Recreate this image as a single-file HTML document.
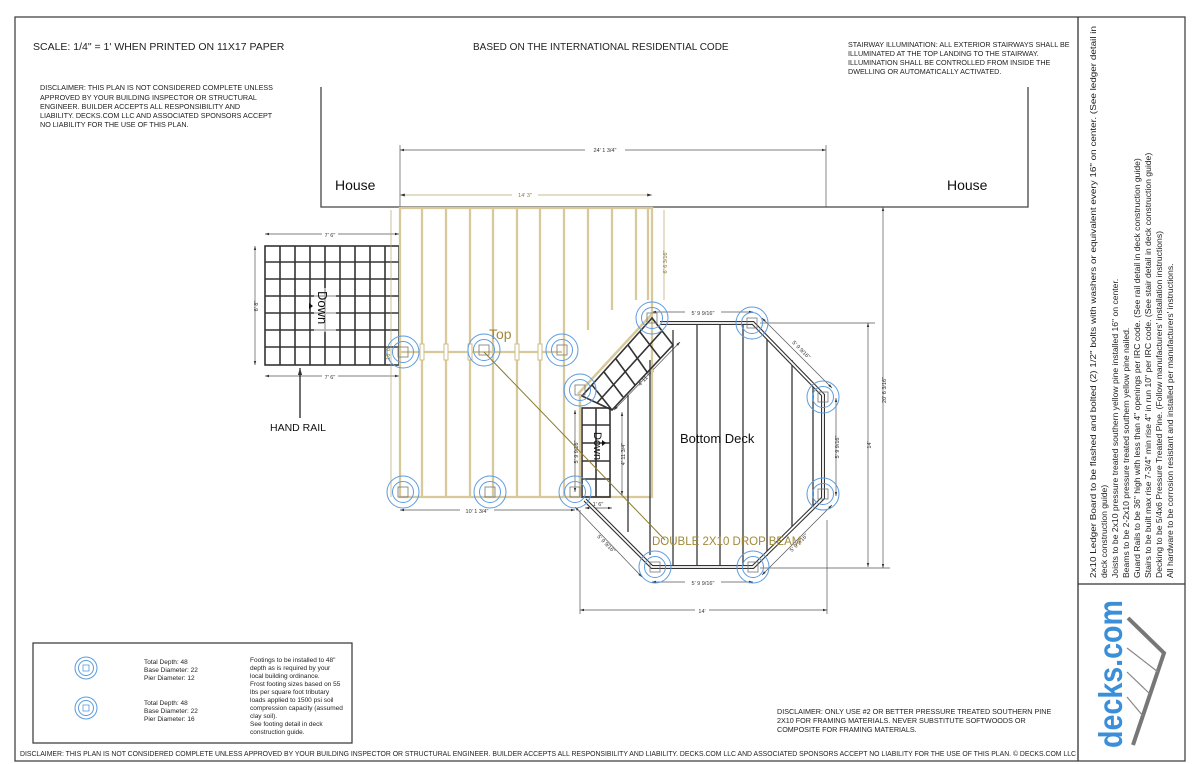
<!DOCTYPE html>
<html><head><meta charset="utf-8"><style>
body{margin:0;background:#fff;}
svg{display:block;font-family:"Liberation Sans",Arial,sans-serif;}
</style></head><body>
<svg width="1200" height="764" viewBox="0 0 1200 764" xmlns="http://www.w3.org/2000/svg">
<defs>
<g id="ft"><circle r="16" fill="none" stroke="#5a9be0" stroke-width="1"/><circle r="10.5" fill="none" stroke="#5a9be0" stroke-width="1"/><rect x="-5" y="-5" width="10" height="10" fill="none" stroke="#777" stroke-width="0.8"/></g>
<marker id="ar" viewBox="0 0 10 10" refX="10" refY="5" markerWidth="6" markerHeight="6" orient="auto-start-reverse"><path d="M0,2L10,5L0,8z" fill="#333"/></marker>
</defs>
<rect x="15" y="17" width="1170" height="744" fill="none" stroke="#444" stroke-width="1.3"/>
<line x1="1078" y1="17" x2="1078" y2="761" stroke="#333" stroke-width="1.3"/>
<line x1="1078" y1="584" x2="1185" y2="584" stroke="#333" stroke-width="1.3"/>

<text x="33" y="50" font-size="10.5" fill="#222">SCALE:  1/4" = 1' WHEN PRINTED ON 11X17 PAPER</text>
<text x="473" y="50" font-size="10" fill="#222">BASED ON THE INTERNATIONAL RESIDENTIAL CODE</text>
<g font-size="7.2" fill="#222">
<text x="40" y="90">DISCLAIMER:  THIS PLAN IS NOT CONSIDERED COMPLETE UNLESS</text>
<text x="40" y="100">APPROVED BY YOUR BUILDING INSPECTOR OR STRUCTURAL</text>
<text x="40" y="109">ENGINEER.  BUILDER ACCEPTS ALL RESPONSIBILITY AND</text>
<text x="40" y="118">LIABILITY.  DECKS.COM LLC AND ASSOCIATED SPONSORS ACCEPT</text>
<text x="40" y="127">NO LIABILITY FOR THE USE OF THIS PLAN.</text>
<text x="848" y="47">STAIRWAY ILLUMINATION:  ALL EXTERIOR STAIRWAYS SHALL BE</text>
<text x="848" y="56">ILLUMINATED AT THE TOP LANDING TO THE STAIRWAY.</text>
<text x="848" y="65">ILLUMINATION SHALL BE CONTROLLED FROM INSIDE THE</text>
<text x="848" y="74">DWELLING OR AUTOMATICALLY ACTIVATED.</text>
</g>

<polyline points="321,87 321,207 1028,207 1028,87" fill="none" stroke="#444" stroke-width="1.3"/>
<text x="335" y="190" font-size="14" fill="#111">House</text>
<text x="947" y="190" font-size="14" fill="#111">House</text>

<g stroke="#555" stroke-width="0.7" fill="none">
<line x1="400" y1="150" x2="826" y2="150" marker-start="url(#ar)" marker-end="url(#ar)"/>
<line x1="400" y1="145" x2="400" y2="207"/><line x1="826" y1="145" x2="826" y2="207"/>
<line x1="265" y1="234" x2="399" y2="234" marker-start="url(#ar)" marker-end="url(#ar)"/>
<line x1="265" y1="376" x2="399" y2="376" marker-start="url(#ar)" marker-end="url(#ar)"/>
<line x1="255" y1="246" x2="255" y2="365" marker-start="url(#ar)" marker-end="url(#ar)"/>
<line x1="883" y1="207" x2="883" y2="568" marker-start="url(#ar)" marker-end="url(#ar)"/>
<line x1="868" y1="323" x2="868" y2="567" marker-start="url(#ar)" marker-end="url(#ar)"/>
<line x1="760" y1="323" x2="875" y2="323"/><line x1="760" y1="568" x2="890" y2="568"/>
<line x1="580" y1="610" x2="827" y2="610" marker-start="url(#ar)" marker-end="url(#ar)"/>
<line x1="580" y1="510" x2="580" y2="614"/><line x1="827" y1="520" x2="827" y2="614"/>
<line x1="652" y1="582" x2="753" y2="582" marker-start="url(#ar)" marker-end="url(#ar)"/>
<line x1="652" y1="312" x2="753" y2="312" marker-start="url(#ar)" marker-end="url(#ar)"/>
<line x1="762" y1="318" x2="832" y2="388" marker-start="url(#ar)" marker-end="url(#ar)"/>
<line x1="832" y1="505" x2="762" y2="575" marker-start="url(#ar)" marker-end="url(#ar)"/>
<line x1="575" y1="507" x2="642" y2="577" marker-start="url(#ar)" marker-end="url(#ar)"/>
<line x1="836" y1="398" x2="836" y2="496" marker-start="url(#ar)" marker-end="url(#ar)"/>
<line x1="575" y1="410" x2="575" y2="492" marker-start="url(#ar)" marker-end="url(#ar)"/>
<line x1="622" y1="412" x2="622" y2="495" marker-start="url(#ar)" marker-end="url(#ar)"/>
<line x1="614" y1="410" x2="680" y2="342" marker-start="url(#ar)" marker-end="url(#ar)"/>
<line x1="400" y1="510" x2="575" y2="510" marker-start="url(#ar)" marker-end="url(#ar)"/>
<line x1="585" y1="508" x2="612" y2="508" marker-start="url(#ar)" marker-end="url(#ar)"/>
</g>
<g font-size="5.5" fill="#333" text-anchor="middle">
<rect x="585" y="146" width="40" height="7" fill="#fff"/><text x="605" y="152">24' 1 3/4"</text>
<rect x="322" y="231" width="16" height="7" fill="#fff"/><text x="330" y="237">7' 6"</text>
<rect x="322" y="373" width="16" height="7" fill="#fff"/><text x="330" y="379">7' 6"</text>
<rect x="460" y="507" width="34" height="7" fill="#fff"/><text x="477" y="513">10' 1 3/4"</text>
<rect x="685" y="579" width="36" height="7" fill="#fff"/><text x="703" y="585">5' 9 9/16"</text>
<rect x="685" y="309" width="36" height="7" fill="#fff"/><text x="703" y="315">5' 9 9/16"</text>
<rect x="695" y="607" width="14" height="7" fill="#fff"/><text x="702" y="613">14'</text>
<text transform="translate(258,306) rotate(-90)">6' 8"</text>
<text transform="translate(886,390) rotate(-90)" >20' 6 3/16"</text>
<text transform="translate(871,445) rotate(-90)">14'</text>
<text transform="translate(839,447) rotate(-90)">5' 9 9/16"</text>
<text transform="translate(578,452) rotate(-90)">5' 9 9/16"</text>
<text transform="translate(625,454) rotate(-90)">4' 11 3/4"</text>
<text transform="translate(800,351) rotate(45)">5' 9 9/16"</text>
<text transform="translate(800,544) rotate(-45)">5' 9 9/16"</text>
<text transform="translate(605,545) rotate(45)">5' 9 9/16"</text>
<text transform="translate(648,378) rotate(-47)">4' 11 3/4"</text>
<text x="598" y="506">1' 6"</text>
</g>

<g stroke="#333" stroke-width="1.6" fill="none">
<rect x="265" y="246" width="134" height="119"/>
<line x1="280" y1="246" x2="280" y2="365"/><line x1="295" y1="246" x2="295" y2="365"/><line x1="310" y1="246" x2="310" y2="365"/><line x1="325" y1="246" x2="325" y2="365"/><line x1="340" y1="246" x2="340" y2="365"/><line x1="355" y1="246" x2="355" y2="365"/><line x1="370" y1="246" x2="370" y2="365"/><line x1="385" y1="246" x2="385" y2="365"/>
<line x1="265" y1="262" x2="399" y2="262"/><line x1="265" y1="279" x2="399" y2="279"/><line x1="265" y1="296" x2="399" y2="296"/><line x1="265" y1="313" x2="399" y2="313"/><line x1="265" y1="330" x2="399" y2="330"/><line x1="265" y1="347" x2="399" y2="347"/>
</g>
<rect x="314" y="288" width="22" height="44" fill="#fff" opacity="0.6"/>
<text transform="translate(318,291) rotate(90)" font-size="13" fill="#111">Down</text>
<path d="M313,306 l-4,-3 0,6z" fill="#111"/>
<line x1="300" y1="418" x2="300" y2="368" stroke="#111" stroke-width="1.2" marker-end="url(#ar)"/>
<text x="270" y="431" font-size="10.5" fill="#111">HAND RAIL</text>

<g stroke="#d8c99c" stroke-width="2.3" fill="none">
<rect x="400" y="208" width="252" height="289"/>
<line x1="422" y1="208" x2="422" y2="497"/><line x1="446" y1="208" x2="446" y2="497"/><line x1="470" y1="208" x2="470" y2="497"/><line x1="493" y1="208" x2="493" y2="497"/><line x1="517" y1="208" x2="517" y2="497"/><line x1="540" y1="208" x2="540" y2="497"/><line x1="564" y1="208" x2="564" y2="497"/><line x1="588" y1="208" x2="588" y2="330"/><line x1="612" y1="208" x2="612" y2="310"/><line x1="636" y1="208" x2="636" y2="300"/><line x1="648" y1="208" x2="648" y2="300"/>
<line x1="400" y1="352" x2="562" y2="352"/>
<line x1="391" y1="210" x2="391" y2="497" stroke-width="0.7" stroke="#b5a46e"/>
<line x1="664" y1="210" x2="664" y2="300" stroke-width="0.7" stroke="#b5a46e"/>
<line x1="400" y1="195" x2="652" y2="195" stroke-width="0.8" stroke="#b5a46e" marker-start="url(#ar)" marker-end="url(#ar)"/>
</g>
<g fill="#fff" stroke="#cdbb86" stroke-width="1"><rect x="420" y="344" width="4" height="16"/><rect x="444" y="344" width="4" height="16"/><rect x="468" y="344" width="4" height="16"/><rect x="515" y="344" width="4" height="16"/><rect x="538" y="344" width="4" height="16"/></g>
<rect x="512" y="191" width="26" height="7" fill="#fff"/><text x="525" y="197" font-size="5.5" fill="#8a7a40" text-anchor="middle">14' 3"</text>
<text transform="translate(667,262) rotate(-90)" font-size="5.5" fill="#8a7a40" text-anchor="middle">6' 6 3/16"</text>
<text transform="translate(390,353) rotate(-90)" font-size="5.5" fill="#8a7a40" text-anchor="middle">16' 0"</text>
<text x="489" y="339" font-size="14" fill="#a08a3a">Top</text>

<g stroke="#444" stroke-width="1.4" fill="none">
<line x1="673" y1="330" x2="673" y2="567"/><line x1="697" y1="323" x2="697" y2="567"/><line x1="720" y1="323" x2="720" y2="567"/><line x1="743" y1="323" x2="743" y2="567"/><line x1="767" y1="335" x2="767" y2="556"/><line x1="792" y1="360" x2="792" y2="530"/><line x1="813" y1="385" x2="813" y2="508"/><line x1="650" y1="360" x2="650" y2="555"/><line x1="628" y1="395" x2="628" y2="532"/>
</g>
<g fill="none" stroke="#333" stroke-width="4"><polyline points="660,323 753,323 823,395 823,498 753,567 652,567 585,500"/></g>
<g fill="none" stroke="#fff" stroke-width="1.8"><polyline points="660,323 753,323 823,395 823,498 753,567 652,567 585,500"/></g>
<g stroke="#333" stroke-width="1.6" fill="none">
<polygon points="652,318 673,345 612,410 582,396"/>
<line x1="640" y1="332" x2="660" y2="358"/><line x1="628" y1="345" x2="647" y2="372"/><line x1="616" y1="359" x2="635" y2="385"/><line x1="604" y1="372" x2="623" y2="397"/><line x1="592" y1="385" x2="612" y2="410"/>
<line x1="662" y1="331" x2="597" y2="403"/>
<rect x="582" y="408" width="28" height="89"/>
<line x1="596" y1="408" x2="596" y2="497"/>
<line x1="582" y1="425" x2="610" y2="425"/><line x1="582" y1="443" x2="610" y2="443"/><line x1="582" y1="461" x2="610" y2="461"/><line x1="582" y1="479" x2="610" y2="479"/>
</g>
<line x1="652" y1="314" x2="578" y2="394" stroke="#d8c99c" stroke-width="2.5"/>
<line x1="580" y1="396" x2="580" y2="497" stroke="#d8c99c" stroke-width="2.5"/>
<text transform="translate(594,432) rotate(90)" font-size="11" fill="#111">Down</text>
<path d="M606,443 l-4,-3 0,6z" fill="#111"/>
<text x="680" y="443" font-size="13" fill="#111">Bottom Deck</text>

<line x1="484" y1="352" x2="665" y2="540" stroke="#8a7a30" stroke-width="1"/>
<text x="652" y="545" font-size="11.5" fill="#a08a3a">DOUBLE 2X10 DROP BEAM</text>

<use href="#ft" x="403" y="352"/><use href="#ft" x="484" y="350"/><use href="#ft" x="562" y="350"/>
<use href="#ft" x="403" y="492"/><use href="#ft" x="490" y="492"/><use href="#ft" x="575" y="492"/>
<use href="#ft" x="580" y="390"/><use href="#ft" x="652" y="318"/><use href="#ft" x="752" y="323"/>
<use href="#ft" x="823" y="397"/><use href="#ft" x="823" y="494"/><use href="#ft" x="753" y="567"/><use href="#ft" x="655" y="567"/>

<rect x="33" y="643" width="319" height="100" fill="none" stroke="#333" stroke-width="1.2"/>
<g transform="translate(86,668)"><circle r="11" fill="none" stroke="#5a9be0"/><circle r="7.5" fill="none" stroke="#5a9be0"/><rect x="-3" y="-3" width="6" height="6" fill="none" stroke="#5a9be0" stroke-width="0.8"/></g>
<g transform="translate(86,708)"><circle r="11" fill="none" stroke="#5a9be0"/><circle r="7.5" fill="none" stroke="#5a9be0"/><rect x="-3" y="-3" width="6" height="6" fill="none" stroke="#5a9be0" stroke-width="0.8"/></g>
<g font-size="6.5" fill="#222">
<text x="144" y="664">Total Depth: 48</text><text x="144" y="672">Base Diameter: 22</text><text x="144" y="680">Pier Diameter: 12</text>
<text x="144" y="705">Total Depth: 48</text><text x="144" y="713">Base Diameter: 22</text><text x="144" y="721">Pier Diameter: 16</text>
<text x="250" y="662">Footings to be installed to 48"</text><text x="250" y="670">depth as is required by your</text><text x="250" y="678">local building ordinance.</text><text x="250" y="686">Frost footing sizes based on 55</text><text x="250" y="694">lbs per square foot tributary</text><text x="250" y="702">loads applied to 1500 psi soil</text><text x="250" y="710">compression capacity (assumed</text><text x="250" y="718">clay soil).</text><text x="250" y="726">See footing detail in deck</text><text x="250" y="734">construction guide.</text>
</g>
<g font-size="7.2" fill="#222">
<text x="777" y="714">DISCLAIMER:  ONLY USE #2 OR BETTER PRESSURE TREATED SOUTHERN PINE</text>
<text x="777" y="723">2X10 FOR FRAMING MATERIALS.  NEVER SUBSTITUTE SOFTWOODS OR</text>
<text x="777" y="732">COMPOSITE FOR FRAMING MATERIALS.</text>
</g>
<text x="20" y="756" font-size="7" fill="#222" textLength="1056" lengthAdjust="spacingAndGlyphs">DISCLAIMER:  THIS PLAN IS NOT CONSIDERED COMPLETE UNLESS APPROVED BY YOUR BUILDING INSPECTOR OR STRUCTURAL ENGINEER.  BUILDER ACCEPTS ALL RESPONSIBILITY AND LIABILITY.  DECKS.COM LLC AND ASSOCIATED SPONSORS ACCEPT NO LIABILITY FOR THE USE OF THIS PLAN. © DECKS.COM LLC</text>

<g font-size="8.6" fill="#222">
<text transform="translate(1096,578) rotate(-90)" textLength="552" lengthAdjust="spacingAndGlyphs">2x10 Ledger Board to be flashed and bolted (2) 1/2" bolts with washers or equivalent every 16" on center.  (See ledger detail in</text>
<text transform="translate(1107,578) rotate(-90)">deck construction guide)</text>
<text transform="translate(1118,578) rotate(-90)">Joists to be 2x10 pressure treated southern yellow pine installed 16" on center.</text>
<text transform="translate(1129,578) rotate(-90)">Beams to be 2-2x10 pressure treated southern yellow pine nailed.</text>
<text transform="translate(1140,578) rotate(-90)">Guard Rails to be 36" high with less than 4" openings per IRC code.  (See rail detail in deck construction guide)</text>
<text transform="translate(1151,578) rotate(-90)">Stairs to be built max rise 7-3/4" min rise 4" in run 10" per IRC code.  (See stair detail in deck construction guide)</text>
<text transform="translate(1162,578) rotate(-90)">Decking to be 5/4x6 Pressure Treated Pine.  (Follow manufacturers' installation instructions)</text>
<text transform="translate(1173,578) rotate(-90)">All hardware to be corrosion resistant and installed per manufacturers' instructions.</text>
</g>
<text transform="translate(1122,748) rotate(-90)" font-size="33" font-weight="bold" fill="#3b8fd9" textLength="148" lengthAdjust="spacingAndGlyphs">decks.com</text>
<g stroke="#777" stroke-width="4" fill="none"><polyline points="1128,618 1164,653 1133,745"/></g>
<g stroke="#888" stroke-width="1.2"><line x1="1127" y1="648" x2="1158" y2="672"/><line x1="1127" y1="672" x2="1150" y2="694"/><line x1="1127" y1="697" x2="1143" y2="716"/></g>
</svg>
</body></html>
